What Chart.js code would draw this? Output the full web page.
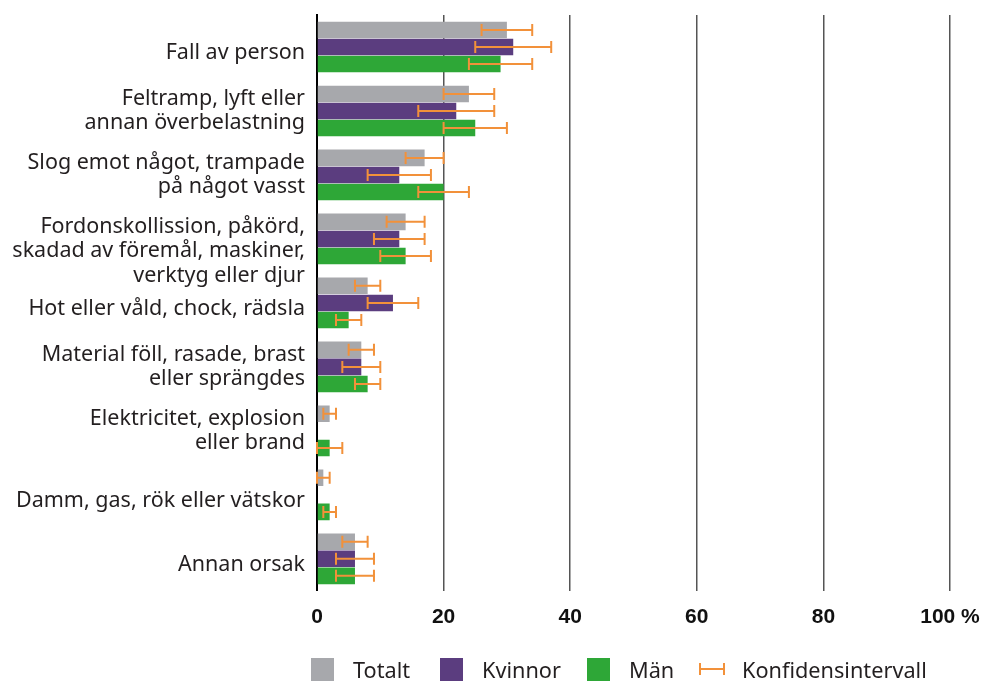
<!DOCTYPE html>
<html>
<head>
<meta charset="utf-8">
<script src="https://cdn.jsdelivr.net/npm/chart.js@4.4.1/dist/chart.umd.min.js"></script>
<style>
  body { margin: 0; background: #fff; }
  #wrap { position: relative; width: 986px; height: 681px; }
  #legend { position: absolute; left: 0; top: 657px; width: 986px; height: 24px; }
  .leg { position: absolute; top: 0; display: flex; align-items: center; height: 24px;
         font: 21.7px 'Noto Sans', sans-serif; color: #231f20; white-space: nowrap; }
  .sw { width: 23px; height: 23px; margin-right: 19px; }
</style>
</head>
<body>
<div id="wrap">
  <canvas id="chart" width="986" height="681"></canvas>
  <div id="legend"></div>
</div>
<script>
  // ---------- Data ----------
  const categories = [
    'Fall av person',
    ['Feltramp, lyft eller', 'annan överbelastning'],
    ['Slog emot något, trampade', 'på något vasst'],
    ['Fordonskollission, påkörd,', 'skadad av föremål, maskiner,', 'verktyg eller djur'],
    'Hot eller våld, chock, rädsla',
    ['Material föll, rasade, brast', 'eller sprängdes'],
    ['Elektricitet, explosion', 'eller brand'],
    'Damm, gas, rök eller vätskor',
    'Annan orsak'
  ];

  const totalt    = [30, 24, 17, 14, 8, 7, 2, 1, 6];
  const totaltLow = [26, 20, 14, 11, 6, 5, 1, 0, 4];
  const totaltHigh= [34, 28, 20, 17, 10, 9, 3, 2, 8];

  const kvinnor    = [31, 22, 13, 13, 12, 7, null, null, 6];
  const kvinnorLow = [25, 16, 8, 9, 8, 4, null, null, 3];
  const kvinnorHigh= [37, 28, 18, 17, 16, 10, null, null, 9];

  const man    = [29, 25, 20, 14, 5, 8, 2, 2, 6];
  const manLow = [24, 20, 16, 10, 3, 6, 0, 1, 3];
  const manHigh= [34, 30, 24, 18, 7, 10, 4, 3, 9];

  const xTicks = [0, 20, 40, 60, 80, 100];

  const colors = { totalt: '#a7a8ac', kvinnor: '#5b3d7f', man: '#2ea737', ci: '#f2913a' };

  // ---------- Error bars ----------
  const errorBars = {
    id: 'errorBars',
    afterDraw(chart) {
      const ctx = chart.ctx;
      const xs = chart.scales.x;
      chart.data.datasets.forEach((ds, i) => {
        const meta = chart.getDatasetMeta(i);
        meta.data.forEach((bar, j) => {
          const lo = ds.ciLow[j], hi = ds.ciHigh[j];
          if (lo == null || hi == null) return;
          const x0 = xs.getPixelForValue(lo);
          const x1 = xs.getPixelForValue(hi);
          const y = bar.y;
          ctx.save();
          ctx.strokeStyle = colors.ci;
          ctx.lineWidth = 2;
          ctx.beginPath();
          ctx.moveTo(x0, y); ctx.lineTo(x1, y);
          ctx.moveTo(x0, y - 6); ctx.lineTo(x0, y + 6);
          ctx.moveTo(x1, y - 6); ctx.lineTo(x1, y + 6);
          ctx.stroke();
          ctx.restore();
        });
      });
    }
  };

  // no extra room for label overflow, the layout padding decides the plot area
  const noPadding = (scale) => {
    scale.paddingTop = 0; scale.paddingBottom = 0;
    scale.paddingLeft = 0; scale.paddingRight = 0;
  };

  // labels sit a bit low in the original: push them down with an empty first line
  const tickLabel = (value, index) => {
    const lab = categories[index];
    if (!Array.isArray(lab)) return ['', lab];
    return lab.length > 2 ? ['', ...lab] : lab;
  };
  const tickFont = (ctx) => ({
    family: 'Noto Sans',
    size: 21.5,
    lineHeight: typeof categories[ctx.index] === 'string' ? 0.56 : 1.14
  });

  const chart = new Chart(document.getElementById('chart'), {
    type: 'bar',
    data: {
      labels: categories,
      datasets: [
        { label: 'Totalt', data: totalt, ciLow: totaltLow, ciHigh: totaltHigh, backgroundColor: colors.totalt },
        { label: 'Kvinnor', data: kvinnor, ciLow: kvinnorLow, ciHigh: kvinnorHigh, backgroundColor: colors.kvinnor },
        { label: 'Män', data: man, ciLow: manLow, ciHigh: manHigh, backgroundColor: colors.man }
      ]
    },
    options: {
      indexAxis: 'y',
      responsive: false,
      animation: false,
      layout: { padding: { top: 15, right: 36, bottom: 37, left: 0 } },
      datasets: { bar: { categoryPercentage: 0.8, barPercentage: 0.97 } },
      plugins: { legend: { display: false }, tooltip: { enabled: false } },
      scales: {
        x: {
          min: 0, max: 100,
          z: 1,
          afterBuildTicks: (scale) => { scale.ticks = xTicks.map(v => ({ value: v })); },
          afterFit: noPadding,
          ticks: {
            padding: 14,
            color: '#111',
            font: { family: 'Liberation Sans', size: 21, weight: 'bold' },
            callback: (v) => v === 100 ? '100 %' : v
          },
          grid: { color: (c) => c.tick && c.tick.value === 0 ? '#000' : '#555', lineWidth: 1.5, drawTicks: false },
          border: { display: false }
        },
        y: {
          afterFit: (scale) => { noPadding(scale); scale.width = 317; },
          ticks: {
            autoSkip: false,
            padding: 12,
            color: '#231f20',
            font: tickFont,
            callback: tickLabel
          },
          grid: { display: false, drawTicks: false },
          border: { display: true, color: '#000', width: 2 }
        }
      }
    },
    plugins: [errorBars]
  });

  // ---------- Legend ----------
  const legend = document.getElementById('legend');
  const legendLeft = [311, 440, 587];
  chart.data.datasets.forEach((ds, i) => {
    const item = document.createElement('div');
    item.className = 'leg';
    item.style.left = legendLeft[i] + 'px';
    item.innerHTML = `<div class="sw" style="background:${ds.backgroundColor}"></div>${ds.label}`;
    legend.appendChild(item);
  });
  const ciItem = document.createElement('div');
  ciItem.className = 'leg';
  ciItem.style.left = '699px';
  ciItem.innerHTML = `<svg width="26" height="14" style="margin-right:17px">
      <path d="M1 1 V13 M25 1 V13 M1 7 H25" stroke="${colors.ci}" stroke-width="2" fill="none"/></svg>Konfidensintervall`;
  legend.appendChild(ciItem);
</script>
</body>
</html>
